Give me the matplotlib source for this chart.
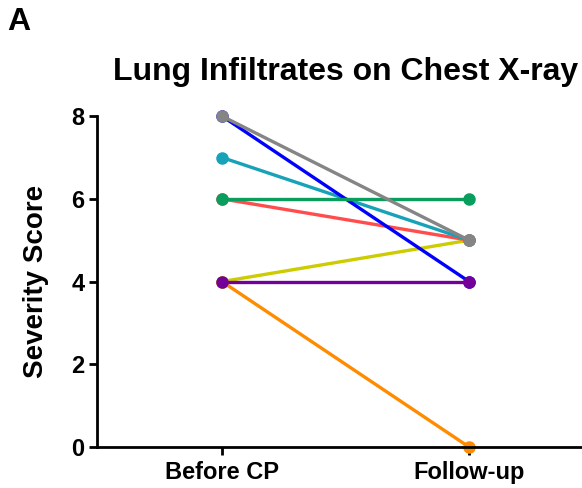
import matplotlib
matplotlib.use("Agg")
import matplotlib.pyplot as plt

plt.rcParams["font.family"] = ["Liberation Sans", "DejaVu Sans"]
plt.rcParams["font.weight"] = "bold"

# paired severity scores, one line per patient
groups = ["Before CP", "Follow-up"]
before = [4, 4, 6, 7, 8, 6, 4, 8]
follow = [0, 5, 5, 5, 4, 6, 4, 5]
colors = ["#FF8C00", "#CCCC00", "#FF4D4D", "#17A2B8", "#0000FF", "#0A9E5E", "#730099", "#858585"]

fig = plt.figure(figsize=(5.82, 4.88), dpi=100)
ax = fig.add_axes([0.1667, 0.084, 0.8333, 0.678])

for b, f, c in zip(before, follow, colors):
    ax.plot([0, 1], [b, f], c=c, lw=2.4, marker="o", markersize=8, clip_on=False)

ax.set_xlim(-0.506, 1.457)
ax.set_ylim(0, 8)
ax.set_xticks([0, 1])
ax.set_xticklabels(groups, fontsize=17, fontweight="bold")
ax.set_yticks([0, 2, 4, 6, 8])
ax.tick_params(axis="y", labelsize=17, width=2, length=6, pad=3)
ax.tick_params(axis="x", width=2, length=6, pad=4)
for lab in ax.get_yticklabels():
    lab.set_fontweight("bold")

ax.spines["top"].set_visible(False)
ax.spines["right"].set_visible(False)
ax.spines["left"].set_linewidth(2)
ax.spines["bottom"].set_linewidth(2)

ax.set_ylabel("Severity Score", fontsize=20, fontweight="bold", labelpad=16)
ax.set_title("Lung Infiltrates on Chest X-ray", fontsize=23, fontweight="bold", pad=26, x=0.512)
fig.text(0.012, 0.955, "A", fontsize=23, fontweight="bold", va="center")

fig.savefig("out.png", dpi=100)
